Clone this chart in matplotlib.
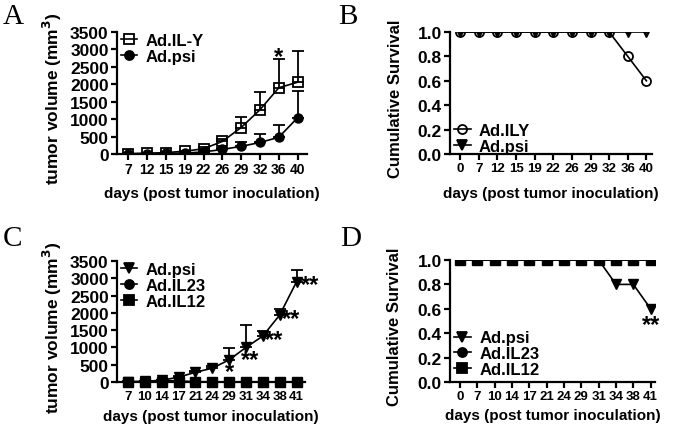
import matplotlib
matplotlib.use("Agg")
import matplotlib.pyplot as plt
from matplotlib.lines import Line2D
import numpy as np

plt.rcParams['font.family'] = ['Liberation Sans', 'DejaVu Sans']
plt.rcParams['font.weight'] = 'bold'

# panel A: tumor volume, Ad.IL-Y vs Ad.psi
days_a = ['7', '12', '15', '19', '22', '26', '29', '32', '36', '40']
ily_vol = [10, 20, 40, 80, 150, 360, 760, 1270, 1900, 2060]
ily_err = [5, 10, 15, 20, 40, 60, 300, 500, 830, 900]
psi_vol_a = [5, 10, 15, 25, 60, 130, 220, 330, 480, 1040]
psi_err_a = [3, 5, 8, 10, 20, 40, 120, 250, 360, 770]

# panel B: survival
days_b = ['0', '7', '12', '15', '19', '22', '26', '29', '32', '36', '40']
ily_surv = [1, 1, 1, 1, 1, 1, 1, 1, 1, 0.8, 0.6]
psi_surv_b = [1, 1, 1, 1, 1, 1, 1, 1, 1, 1, 1]

# panel C: tumor volume, Ad.psi / Ad.IL23 / Ad.IL12
days_c = ['7', '10', '14', '17', '21', '24', '29', '31', '34', '38', '41']
psi_vol_c = [10, 20, 50, 140, 280, 400, 640, 1000, 1330, 1940, 2900]
psi_err_c = [5, 10, 20, 40, 50, 60, 340, 650, 140, 170, 330]
il23_vol = [5, 10, 50, 30, 10, 5, 5, 5, 5, 5, 5]
il12_vol = [0, 0, 0, 0, 0, 0, 0, 0, 0, 0, 0]

# panel D: survival
days_d = ['0', '7', '10', '14', '17', '21', '24', '29', '31', '34', '38', '41']
psi_surv_d = [1, 1, 1, 1, 1, 1, 1, 1, 1, 0.8, 0.8, 0.6]
il23_surv = [1, 1, 1, 1, 1, 1, 1, 1, 1, 1, 1, 1]
il12_surv = [1, 1, 1, 1, 1, 1, 1, 1, 1, 1, 1, 1]

W, H = 675, 427
fig = plt.figure(figsize=(6.75, 4.27), dpi=100)


def make_ax(x0, y0, x1, y1):
    # pixel box -> figure fraction
    return fig.add_axes([x0 / W, 1 - y1 / H, (x1 - x0) / W, (y1 - y0) / H])


def style(ax, labels, ymax, ystep, ylabel, fmt, xfs, yl_fs):
    for s in ['top', 'right']:
        ax.spines[s].set_visible(False)
    for s in ['left', 'bottom']:
        ax.spines[s].set_linewidth(1.6)
    ax.set_xticks(range(len(labels)))
    ax.set_xticklabels(labels, fontsize=xfs, fontweight='bold')
    ax.set_ylim(0, ymax)
    yt = np.arange(0, ymax + ystep / 2, ystep)
    ax.set_yticks(yt)
    ax.set_yticklabels([fmt.format(v) for v in yt], fontsize=12.5, fontweight='bold')
    ax.tick_params(direction='out', length=4, width=1.6, pad=2)
    ax.set_ylabel(ylabel, fontsize=yl_fs, fontweight='bold')
    ax.set_xlabel('days (post tumor inoculation)', fontsize=11, fontweight='bold')


def handle(marker, mfc='black'):
    return Line2D([], [], color='black', lw=1.2, marker=marker, ms=6.5, mfc=mfc, mew=1.3)


def legend(ax, handles, labels, loc, anchor):
    ax.legend(handles, labels, loc=loc, bbox_to_anchor=anchor, frameon=False,
              fontsize=12, handlelength=1.0, handletextpad=0.5, labelspacing=0.05,
              borderaxespad=0.0, borderpad=0.0)


lw = 1.2
ms = 6.5
eb = dict(capsize=4, elinewidth=1.3, capthick=1.3)

# ---- A
axA = make_ax(117, 33, 307, 155)
x = np.arange(len(days_a))
axA.errorbar(x, ily_vol, yerr=[np.zeros(len(x)), ily_err], color='black', lw=lw,
             marker='s', ms=ms, mfc='none', mew=1.3, zorder=3, **eb)
axA.errorbar(x, psi_vol_a, yerr=[np.zeros(len(x)), psi_err_a], color='black', lw=lw,
             marker='o', ms=ms, zorder=4, **eb)
axA.set_xlim(-0.6, 9.5)
style(axA, days_a, 3500, 500, 'tumor volume (mm$^\\mathbf{3}$)', '{:.0f}', 10, 12.5)
legend(axA, [handle('s', 'none'), handle('o')], ['Ad.IL-Y', 'Ad.psi'], 'upper left', (0.02, 0.99))
axA.text(8, 2800, '*', fontsize=17, ha='center', va='center')
axA.yaxis.set_label_coords(-0.28, 0.46)
axA.xaxis.set_label_coords(0.5, -0.26)

# ---- B
axB = make_ax(450, 33, 652, 155)
x = np.arange(len(days_b))
axB.plot(x, psi_surv_b, color='black', lw=lw, marker='v', ms=ms, zorder=3)
axB.plot(x, ily_surv, color='black', lw=lw, marker='o', ms=ms, mfc='none', mew=1.3, zorder=4)
axB.set_xlim(-0.55, 10.3)
style(axB, days_b, 1.0, 0.2, 'Cumulative Survival', '{:.1f}', 9.5, 12)
legend(axB, [handle('o', 'none'), handle('v')], ['Ad.ILY', 'Ad.psi'], 'lower left', (0.02, 0.0))
axB.yaxis.set_label_coords(-0.235, 0.46)
axB.xaxis.set_label_coords(0.5, -0.26)

# ---- C
axC = make_ax(117, 262, 305, 383)
x = np.arange(len(days_c))
axC.errorbar(x, psi_vol_c, yerr=[np.zeros(len(x)), psi_err_c], color='black', lw=lw,
             marker='v', ms=ms, zorder=4, **eb)
axC.plot(x, il23_vol, color='black', lw=lw, marker='o', ms=ms, zorder=3)
axC.plot(x, il12_vol, color='black', lw=lw, marker='s', ms=ms, zorder=3, clip_on=False)
axC.set_xlim(-0.65, 10.5)
style(axC, days_c, 3500, 500, 'tumor volume (mm$^\\mathbf{3}$)', '{:.0f}', 9.5, 12.5)
legend(axC, [handle('v'), handle('o'), handle('s')], ['Ad.psi', 'Ad.IL23', 'Ad.IL12'],
       'upper left', (0.02, 0.99))
axC.text(6, 300, '*', fontsize=17, ha='center', va='center')
axC.text(7.25, 650, '**', fontsize=17, ha='center', va='center')
axC.text(8.65, 1220, '**', fontsize=17, ha='center', va='center')
axC.text(9.7, 1850, '**', fontsize=17, ha='center', va='center')
axC.text(10.8, 2830, '**', fontsize=17, ha='center', va='center')
axC.yaxis.set_label_coords(-0.28, 0.46)
axC.xaxis.set_label_coords(0.5, -0.22)

# ---- D
axD = make_ax(450, 261, 655, 383)
x = np.arange(len(days_d))
axD.plot(x, psi_surv_d, color='black', lw=lw, marker='v', ms=ms, zorder=4)
axD.plot(x, il23_surv, color='black', lw=lw, marker='o', ms=ms, zorder=3)
axD.plot(x, il12_surv, color='black', lw=lw, marker='s', ms=ms, zorder=3)
axD.set_xlim(-0.58, 11.25)
style(axD, days_d, 1.0, 0.2, 'Cumulative Survival', '{:.1f}', 9.5, 12)
legend(axD, [handle('v'), handle('o'), handle('s')], ['Ad.psi', 'Ad.IL23', 'Ad.IL12'],
       'lower left', (0.02, 0.04))
axD.text(11, 0.47, '**', fontsize=17, ha='center', va='center')
axD.yaxis.set_label_coords(-0.235, 0.46)
axD.xaxis.set_label_coords(0.5, -0.21)

# panel letters
for lab, px, py in [('A', 3, 4), ('B', 338, 4), ('C', 3, 226), ('D', 340, 226)]:
    fig.text(px / W, 1 - py / H, lab, fontsize=21, family='Liberation Serif',
             fontweight='normal', ha='left', va='top')

fig.savefig('out.png', dpi=100, facecolor='white')
